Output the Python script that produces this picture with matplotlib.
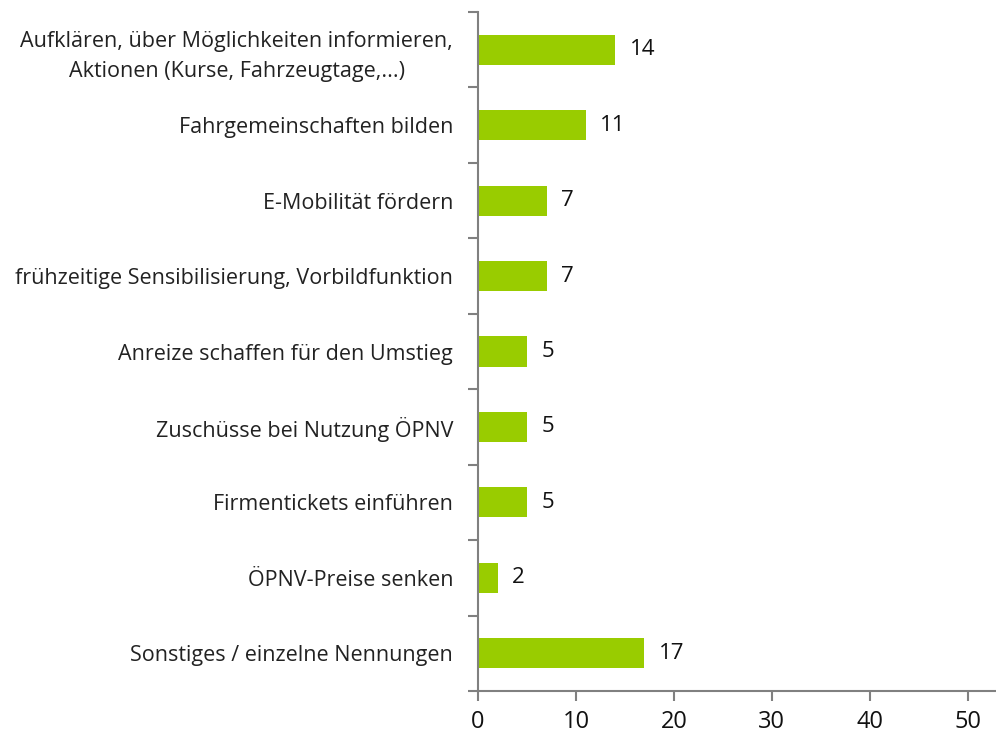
import matplotlib.pyplot as plt

categories = [
    "Aufklären, über Möglichkeiten informieren,\nAktionen (Kurse, Fahrzeugtage,...)",
    "Fahrgemeinschaften bilden",
    "E-Mobilität fördern",
    "frühzeitige Sensibilisierung, Vorbildfunktion",
    "Anreize schaffen für den Umstieg",
    "Zuschüsse bei Nutzung ÖPNV",
    "Firmentickets einführen",
    "ÖPNV-Preise senken",
    "Sonstiges / einzelne Nennungen",
]
values = [14, 11, 7, 7, 5, 5, 5, 2, 17]
xticks = [0, 10, 20, 30, 40, 50]

fig = plt.figure(figsize=(9.96, 7.36), dpi=100)
ax = fig.add_axes([478 / 996, 1 - 691 / 736, (995 - 478) / 996, (691 - 12) / 736])

pos = list(range(len(categories)))
ax.barh(pos, values, height=0.4, color="#99cc00")
ax.set_ylim(len(categories) - 0.5, -0.5)
ax.set_xlim(0, 52.8)

for p, v in zip(pos, values):
    ax.text(v + 1.5, p, str(v), va="center", ha="left", fontsize=16,
            family="Open Sans", color="#111111")

# label text on the left
ax.set_yticks(pos)
ax.set_yticklabels(categories, fontsize=15.5, family="Open Sans", color="#222222",
                   ha="right", multialignment="center", linespacing=1.55)
ax.tick_params(axis="y", length=0, pad=18)

# ticks between categories
ax.set_yticks([p - 0.5 for p in pos] + [len(pos) - 0.5], minor=True)
ax.tick_params(axis="y", which="minor", length=7, width=1.5, color="#808080", direction="out")

ax.set_xticks(xticks)
ax.set_xticklabels([str(t) for t in xticks], fontsize=17, family="Open Sans", color="#111111")
ax.tick_params(axis="x", length=7, width=1.5, color="#808080", pad=7)

for s in ["top", "right"]:
    ax.spines[s].set_visible(False)
for s in ["left", "bottom"]:
    ax.spines[s].set_color("#808080")
    ax.spines[s].set_linewidth(1.5)

fig.savefig("out.png", dpi=100)
